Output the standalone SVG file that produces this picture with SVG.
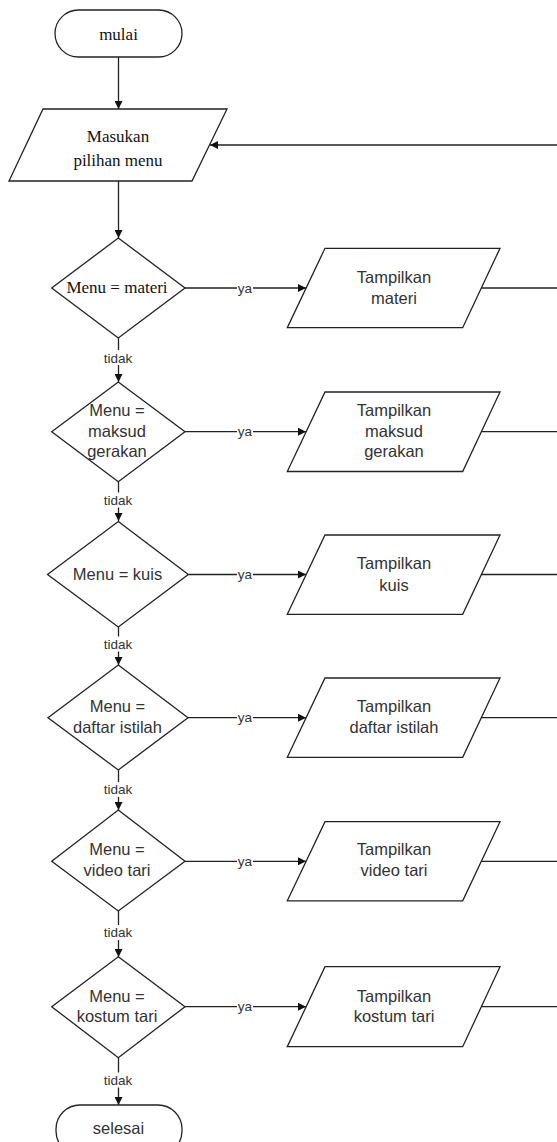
<svg xmlns="http://www.w3.org/2000/svg" width="557" height="1142" viewBox="0 0 557 1142">
<style>
.shape{fill:#fff;stroke:#222;stroke-width:1.3}
.line{fill:none;stroke:#222;stroke-width:1.3}
.serif{font-family:"Liberation Serif","Times New Roman",serif;font-size:17px;fill:#111;text-anchor:middle}
.sans{font-family:"Liberation Sans",Arial,sans-serif;font-size:16.5px;fill:#333;text-anchor:middle}
.lbl{font-family:"Liberation Sans",Arial,sans-serif;font-size:13.5px;fill:#333;text-anchor:middle}
.bg{fill:#fff;stroke:none}
</style>
<defs>
<marker id="arr" viewBox="0 0 10 10" refX="10" refY="5" markerWidth="9" markerHeight="8" markerUnits="userSpaceOnUse" orient="auto">
<path d="M0,0 L10,5 L0,10 z" fill="#111"/>
</marker>
</defs>
<g id="connectors">
<line class="line" x1="118.5" y1="57" x2="118.5" y2="109" marker-end="url(#arr)"/>
<line class="line" x1="118.5" y1="181" x2="118.5" y2="238" marker-end="url(#arr)"/>
<line class="line" x1="560" y1="145" x2="210" y2="145" marker-end="url(#arr)"/>
<line class="line" x1="118.5" y1="338" x2="118.5" y2="382" marker-end="url(#arr)"/>
<line class="line" x1="118.5" y1="482" x2="118.5" y2="521" marker-end="url(#arr)"/>
<line class="line" x1="118.5" y1="627" x2="118.5" y2="665" marker-end="url(#arr)"/>
<line class="line" x1="118.5" y1="770" x2="118.5" y2="810" marker-end="url(#arr)"/>
<line class="line" x1="118.5" y1="911" x2="118.5" y2="957" marker-end="url(#arr)"/>
<line class="line" x1="118.5" y1="1058" x2="118.5" y2="1105" marker-end="url(#arr)"/>
<line class="line" x1="185" y1="288" x2="306" y2="288" marker-end="url(#arr)"/>
<line class="line" x1="185" y1="431.7" x2="306" y2="431.7" marker-end="url(#arr)"/>
<line class="line" x1="188.3" y1="574.5" x2="306" y2="574.5" marker-end="url(#arr)"/>
<line class="line" x1="188" y1="717.7" x2="306" y2="717.7" marker-end="url(#arr)"/>
<line class="line" x1="185" y1="861.3" x2="306" y2="861.3" marker-end="url(#arr)"/>
<line class="line" x1="185" y1="1006.7" x2="306" y2="1006.7" marker-end="url(#arr)"/>
<line class="line" x1="481.3" y1="288" x2="560" y2="288"/>
<line class="line" x1="481.3" y1="431.7" x2="560" y2="431.7"/>
<line class="line" x1="481.3" y1="574.5" x2="560" y2="574.5"/>
<line class="line" x1="481.3" y1="717.7" x2="560" y2="717.7"/>
<line class="line" x1="481.3" y1="861.3" x2="560" y2="861.3"/>
<line class="line" x1="481.3" y1="1006.7" x2="560" y2="1006.7"/>
<rect class="bg" x="237" y="281" width="16" height="14"/>
<text class="lbl" x="245" y="292.5">ya</text>
<rect class="bg" x="237" y="424.7" width="16" height="14"/>
<text class="lbl" x="245" y="436.2">ya</text>
<rect class="bg" x="237" y="567.5" width="16" height="14"/>
<text class="lbl" x="245" y="579">ya</text>
<rect class="bg" x="237" y="710.7" width="16" height="14"/>
<text class="lbl" x="245" y="722.2">ya</text>
<rect class="bg" x="237" y="854.3" width="16" height="14"/>
<text class="lbl" x="245" y="865.8">ya</text>
<rect class="bg" x="237" y="999.7" width="16" height="14"/>
<text class="lbl" x="245" y="1011.2">ya</text>
<rect class="bg" x="102" y="350" width="33" height="15"/>
<text class="lbl" x="118" y="362.5">tidak</text>
<rect class="bg" x="102" y="492.5" width="33" height="15"/>
<text class="lbl" x="118" y="505">tidak</text>
<rect class="bg" x="102" y="636.5" width="33" height="15"/>
<text class="lbl" x="118" y="649">tidak</text>
<rect class="bg" x="102" y="782" width="33" height="15"/>
<text class="lbl" x="118" y="794.3">tidak</text>
<rect class="bg" x="102" y="925" width="33" height="15"/>
<text class="lbl" x="118" y="937.3">tidak</text>
<rect class="bg" x="102" y="1072.5" width="33" height="15"/>
<text class="lbl" x="118" y="1085">tidak</text>
</g>
<g id="mulai">
<rect class="shape" x="55" y="10" width="127" height="47" rx="23.5"/>
<text class="serif" x="118.5" y="39.5">mulai</text>
</g>
<g id="masukan">
<polygon class="shape" points="43,109 227,109 192,181 9,181"/>
<text class="serif" x="118" y="141.5">Masukan</text>
<text class="serif" x="118" y="166">pilihan menu</text>
</g>
<g id="d1">
<polygon class="shape" points="118.3,238 185,288 118.3,338 51.7,288"/>
<text class="serif" x="117" y="293.3">Menu = materi</text>
</g>
<g id="p1">
<polygon class="shape" points="325,248.3 500,248.3 462.7,327.7 287.3,327.7"/>
<text class="sans" x="394" y="282.7">Tampilkan</text>
<text class="sans" x="394" y="304">materi</text>
</g>
<g id="d2">
<polygon class="shape" points="118.3,382 185,431.7 118.3,481.7 51.7,431.7"/>
<text class="sans" x="117" y="415.7">Menu =</text>
<text class="sans" x="117" y="436.7">maksud</text>
<text class="sans" x="117" y="457.3">gerakan</text>
</g>
<g id="p2">
<polygon class="shape" points="325,392 500,392 462.7,471.5 287.3,471.5"/>
<text class="sans" x="394" y="415.7">Tampilkan</text>
<text class="sans" x="394" y="436.7">maksud</text>
<text class="sans" x="394" y="457.3">gerakan</text>
</g>
<g id="d3">
<polygon class="shape" points="118.3,521.5 188.3,574.5 118.3,627 47.5,574.5"/>
<text class="sans" x="117.5" y="580">Menu = kuis</text>
</g>
<g id="p3">
<polygon class="shape" points="325,535 500,535 462.7,614.3 287.3,614.3"/>
<text class="sans" x="394" y="569.3">Tampilkan</text>
<text class="sans" x="394" y="590.7">kuis</text>
</g>
<g id="d4">
<polygon class="shape" points="118.3,665 188,717.7 118.3,770 48,717.7"/>
<text class="sans" x="117.5" y="711.7">Menu =</text>
<text class="sans" x="117.5" y="733.3">daftar istilah</text>
</g>
<g id="p4">
<polygon class="shape" points="325,678 500,678 462.7,757.3 287.3,757.3"/>
<text class="sans" x="394" y="711.7">Tampilkan</text>
<text class="sans" x="394" y="733.3">daftar istilah</text>
</g>
<g id="d5">
<polygon class="shape" points="118.3,810 185,861.3 118.3,911 51.7,861.3"/>
<text class="sans" x="117" y="855">Menu =</text>
<text class="sans" x="117" y="876">video tari</text>
</g>
<g id="p5">
<polygon class="shape" points="325,821.7 500,821.7 462.7,900.8 287.3,900.8"/>
<text class="sans" x="394" y="855">Tampilkan</text>
<text class="sans" x="394" y="876">video tari</text>
</g>
<g id="d6">
<polygon class="shape" points="118.3,956.7 185,1006.7 118.3,1057.7 51.7,1006.7"/>
<text class="sans" x="117" y="1001.7">Menu =</text>
<text class="sans" x="117" y="1022.3">kostum tari</text>
</g>
<g id="p6">
<polygon class="shape" points="325,966.7 500,966.7 462.7,1046.7 287.3,1046.7"/>
<text class="sans" x="394" y="1001.7">Tampilkan</text>
<text class="sans" x="394" y="1022.3">kostum tari</text>
</g>
<g id="selesai">
<rect class="shape" x="56" y="1105" width="126" height="50" rx="24"/>
<text class="sans" x="118.5" y="1134">selesai</text>
</g>
</svg>
